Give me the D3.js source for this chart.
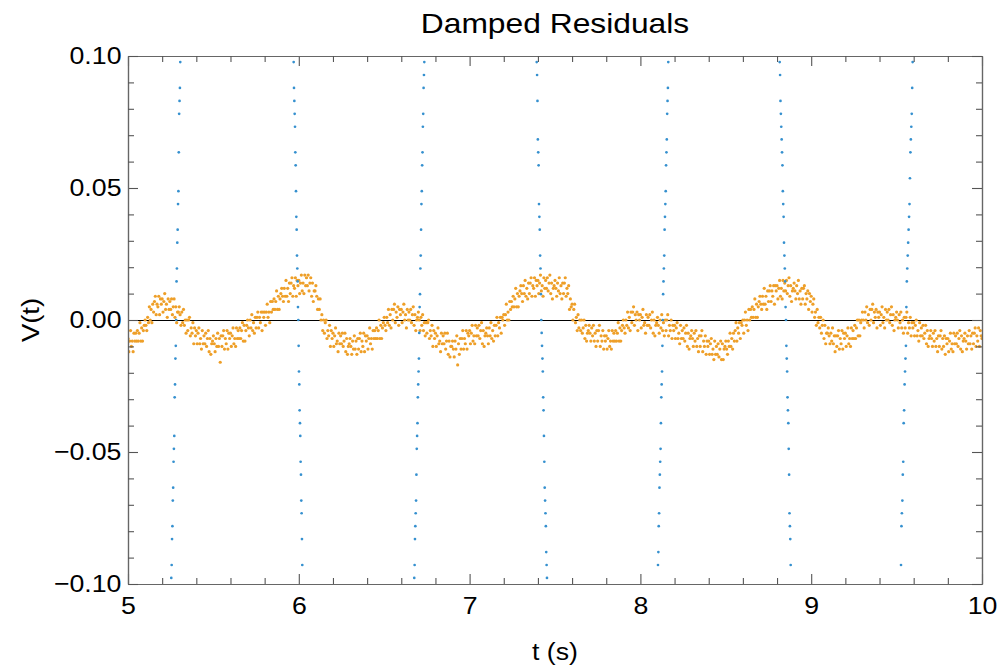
<!DOCTYPE html>
<html lang="en">
<head>
<meta charset="UTF-8">
<title>Damped Residuals</title>
<style>
  body { margin: 0; background: #fff; }
  text { font-family: "Liberation Sans", Arial, sans-serif; fill: #000; }
</style>
</head>
<body>
<script src="https://d3js.org/d3.v7.min.js"></script>
<script>
// tick values / labels
var xTicks = [5, 6, 7, 8, 9, 10];
var yTicks = [-0.1, -0.05, 0, 0.05, 0.1];
var yTickLabels = ["\u22120.10", "\u22120.05", "0.00", "0.05", "0.10"];

// residuals (orange), mV, sampled every 5 ms from t = 5 s
var orangeStart = 5, orangeStep = 0.005;
var orangeMV = [
  -7,-12,-8,-4,-10,-8,-12,-5,-8,-5, -8,-4,-8,-5,-1,-8,-3,-8,-4,-2, 0,-2,-4,1,-1,5,0,4,-1,6, 3,7,9,2,6,5,9,2,8,6,
  8,3,7,10,4,6,1,8,4,7, 4,8,2,5,8,1,5,-1,3,3, 5,2,-2,3,-1,4,-2,0,-5,0, -4,0,1,-6,-3,-5,-1,-9,-3,-6,
  -4,-9,-5,-3,-9,-7,-11,-4,-9,-6, -9,-5,-10,-7,-4,-12,-7,-13,-9,-8, -6,-9,-12,-7,-10,-5,-10,-7,-16,-6, -10,-6,-4,-11,-7,-9,-4,-11,-5,-7,
  -5,-10,-6,-3,-9,-7,-10,-3,-7,-4, -7,-3,-7,-4,-1,-8,-2,-8,-4,-2, 0,-3,-6,0,-3,2,-4,-1,-5,1, -3,1,3,-3,1,-1,3,-4,3,1,
  3,-2,3,6,1,3,-1,7,3,7, 4,8,4,7,11,4,9,4,8,10, 12,9,7,12,9,15,9,12,7,14, 10,14,16,9,13,12,16,9,15,13,
  15,10,14,17,11,14,10,17,13,16, 13,17,11,14,16,9,14,7,11,11, 13,9,4,8,4,8,0,2,-4,0, -5,-1,0,-7,-4,-6,-2,-10,-4,-7,
  -5,-10,-6,-3,-9,-8,-12,-5,-9,-6, -9,-5,-10,-8,-5,-12,-7,-13,-10,-9, -7,-10,-13,-8,-11,-6,-11,-8,-13,-7, -11,-7,-5,-12,-8,-10,-5,-12,-6,-8,
  -6,-11,-7,-3,-9,-7,-11,-4,-7,-4, -7,-3,-7,-4,0,-7,-2,-7,-3,-1, 1,-2,-4,1,-1,4,-2,2,-3,4, 0,4,6,-1,3,1,5,-2,4,2,
  4,-1,3,6,0,2,-3,4,0,3, 0,4,-1,2,5,-2,2,-4,0,1, 3,0,-4,1,-2,2,-4,-1,-6,-1, -5,-1,0,-7,-4,-6,-2,-10,-4,-7,
  -5,-10,-6,-3,-9,-8,-12,-5,-9,-6, -9,-5,-11,-8,-5,-13,-8,-14,-10,-10, -8,-11,-14,-8,-11,-6,-17,-9,-13,-7, -11,-7,-4,-11,-7,-9,-4,-11,-5,-6,
  -4,-9,-5,-2,-8,-6,-9,-2,-6,-3, -6,-2,-7,-4,-1,-9,-4,-10,-6,-5, -3,-6,-9,-3,-6,-1,-7,-4,-8,-2, -6,-2,1,-6,-1,-3,1,-5,1,0,
  2,-2,2,6,0,3,0,7,4,7, 5,9,5,8,12,5,10,5,9,11, 13,10,7,13,10,15,9,12,8,14, 10,14,16,9,13,12,16,9,15,13,
  15,10,14,17,11,13,9,16,12,15, 12,16,11,14,17,10,14,8,12,13, 15,12,9,14,11,16,10,13,8,14, 10,14,16,9,12,10,13,4,8,5,
  6,0,4,6,-1,1,-4,2,-3,0, -4,0,-5,-3,0,-7,-2,-8,-5,-4, -2,-5,-8,-3,-6,-2,-8,-5,-10,-4, -8,-4,-2,-10,-6,-8,-4,-11,-6,-8,
  -6,-11,-7,-4,-10,-8,-11,-4,-8,-5, -8,-4,-8,-5,-1,-8,-3,-8,-4,-2, 0,-3,-5,0,-2,3,-3,1,-4,3, -1,3,5,-2,2,0,3,-4,2,0,
  2,-3,1,4,-2,-1,-5,2,-2,1, -2,2,-3,0,3,-5,0,-6,-2,-1, 1,-2,-5,0,-3,2,-4,-1,-6,0, -4,0,2,-6,-2,-4,0,-7,-2,-4,
  -2,-7,-3,-1,-7,-5,-9,-2,-7,-4, -7,-3,-8,-5,-2,-10,-5,-11,-7,-6, -4,-7,-10,-5,-8,-4,-10,-7,-12,-6, -10,-6,-4,-12,-8,-10,-6,-13,-8,-10,
  -8,-13,-9,-7,-13,-11,-15,-8,-13,-10, -13,-9,-14,-11,-8,-15,-9,-15,-11,-10, -8,-11,-13,-8,-10,-5,-10,-7,-11,-5, -8,-4,-1,-8,-3,-5,-1,-7,-1,-2,
  0,-5,0,3,-2,0,-4,4,0,4, 1,5,1,4,8,1,6,1,5,7, 9,6,4,9,6,12,6,9,4,11, 7,11,13,7,11,9,13,6,13,11,
  13,8,12,15,9,12,8,15,11,14, 11,15,10,13,16,9,13,7,11,12, 14,11,8,13,10,15,8,11,6,12, 8,12,13,6,10,8,11,4,10,7,
  9,3,6,8,1,3,-2,4,-1,1, -3,1,-5,-2,0,-7,-2,-9,-5,-5, -3,-6,-9,-5,-8,-3,-9,-6,-12,-6, -10,-6,-4,-11,-7,-9,-4,-11,-5,-7,
  -5,-10,-6,-3,-9,-7,-10,-3,-7,-4, -7,-2,-7,-3,0,-6,0,-6,-1,0, 3,0,-3,3,0,5,-1,2,-2,4, 0,4,6,-1,3,1,4,-3,3,1,
  3,-2,2,5,-1,1,-3,4,0,3, 0,4,-1,2,5,-2,2,-4,0,1, 3,0,-3,2,-1,3,-3,0,-5,1, -3,1,3,-5,-1,-3,1,-6,-1,-3,
  -1,-6,-2,0,-6,-4,-8,-1,-6,-3, -6,-2,-7,-5,-2,-9,-4,-10,-7,-6, -4,-7,-10,-5,-8,-4,-10,-7,-12,-6, -10,-6,-4,-11,-7,-10,-6,-13,-7,-9,
  -7,-12,-8,-5,-11,-9,-12,-5,-9,-6, -9,-5,-10,-7,-4,-11,-6,-12,-8,-7, -5,-8,-11,-6,-9,-4,-9,-6,-11,-5, -9,-5,-3,-10,-6,-8,-3,-10,-4,-6,
  -7
];

// raw signal (blue), only the samples that fall inside the window; mV
var blueT = [
  [5.2535,5.2557,5.2579,5.2601,5.2623,5.2645,5.2667,5.2688,5.2710,5.2732,5.2754,5.2776,5.2798,5.2820,5.2842,5.2864,5.2886,5.2907,5.2929,5.2951,5.2973,5.2995,5.3017,5.3039,5.3060],
  [5.9700,5.9719,5.9739,5.9758,5.9778,5.9797,5.9816,5.9836,5.9855,5.9875,5.9894,5.9913,5.9933,5.9952,5.9972,5.9991,6.0010,6.0030,6.0049,6.0069,6.0088,6.0107,6.0127,6.0146,6.0166,6.0185,6.0204],
  [6.6760,6.6781,6.6802,6.6823,6.6844,6.6865,6.6886,6.6907,6.6928,6.6949,6.6970,6.6991,6.7012,6.7033,6.7054,6.7075,6.7096,6.7117,6.7138,6.7159,6.7180,6.7201,6.7222,6.7243,6.7264,6.7285,6.7306,6.7327,6.7348],
  [7.3929,7.3951,7.3974,7.3996,7.4018,7.4041,7.4063,7.4085,7.4107,7.4130,7.4152,7.4174,7.4197,7.4219,7.4241,7.4264,7.4286,7.4308,7.4330,7.4353,7.4375,7.4397,7.4420,7.4442,7.4464,7.4487,7.4509,7.4531],
  [8.1030,8.1052,8.1073,8.1095,8.1116,8.1138,8.1159,8.1181,8.1202,8.1224,8.1245,8.1267,8.1288,8.1310,8.1331,8.1353,8.1374,8.1396,8.1417,8.1439,8.1460,8.1482,8.1503,8.1525,8.1546,8.1568,8.1589,8.1611,8.1632],
  [8.8155,8.8178,8.8201,8.8224,8.8247,8.8270,8.8293,8.8316,8.8339,8.8362,8.8385,8.8408,8.8431,8.8454,8.8477,8.8500,8.8523,8.8546,8.8569,8.8592,8.8615,8.8638,8.8661,8.8684,8.8707,8.8730,8.8753,8.8776,8.8799],
  [9.5258,9.5284,9.5310,9.5337,9.5363,9.5389,9.5415,9.5441,9.5468,9.5494,9.5520,9.5546,9.5572,9.5599,9.5625,9.5651,9.5677,9.5703,9.5730,9.5756,9.5782,9.5808,9.5834,9.5861,9.5887,9.5913,9.5939]
];
var blueMV = [
  [-97.7,-92.8,-83.0,-78.1,-68.4,-63.5,-53.7,-48.8,-43.9,-29.3,-24.4,-14.6,-9.8,0,14.6,19.5,29.3,34.2,43.9,48.8,63.5,78.1,83.0,87.9,97.7],
  [97.7,87.9,83.0,78.1,73.2,63.5,58.6,48.8,39.1,34.2,24.4,19.5,14.6,4.9,0,-9.8,-19.5,-24.4,-34.2,-39.1,-43.9,-53.7,-58.6,-68.4,-73.2,-83.0,-92.8],
  [-97.7,-92.8,-83.0,-78.1,-73.2,-68.4,-58.6,-48.8,-43.9,-39.1,-29.3,-24.4,-19.5,-14.6,-4.9,4.9,9.8,19.5,24.4,34.2,43.9,48.8,58.6,63.5,73.2,78.1,87.9,92.8,97.7],
  [97.7,92.8,83.0,68.4,63.5,58.6,43.9,39.1,34.2,24.4,19.5,9.8,0,-4.9,-9.8,-14.6,-19.5,-29.3,-34.2,-43.9,-53.7,-63.5,-68.4,-73.2,-78.1,-87.9,-92.8,-97.7],
  [-92.8,-87.9,-78.1,-73.2,-63.5,-58.6,-53.7,-48.8,-39.1,-29.3,-24.4,-19.5,-9.8,0,9.8,14.6,19.5,24.4,34.2,39.1,43.9,48.8,58.6,63.5,68.4,78.1,83.0,87.9,97.7],
  [97.7,92.8,83.0,78.1,73.2,68.4,63.5,58.6,48.8,43.9,39.1,29.3,24.4,19.5,14.6,4.9,0,-9.8,-14.6,-19.5,-29.3,-34.2,-39.1,-48.8,-58.6,-73.2,-78.1,-83.0,-92.8],
  [-92.8,-78.1,-73.2,-68.4,-58.6,-53.7,-39.1,-34.2,-24.4,-19.5,-14.6,-9.8,4.9,14.6,19.5,24.4,29.3,34.2,39.1,43.9,53.7,63.5,68.4,73.2,78.1,87.9,97.7]
];

var width = 1002, height = 668;
var margin = { left: 128, right: 20, top: 56, bottom: 84 };

var svg = d3.select('body').append('svg').attr('width', width).attr('height', height);

var x = d3.scaleLinear().domain([5, 10]).range([margin.left, width - margin.right]);
var y = d3.scaleLinear().domain([-0.1, 0.1]).range([height - margin.bottom, margin.top]);

var orange = orangeMV.map(function (v, i) { return { t: orangeStart + i * orangeStep, v: v / 1000 }; });
var blue = [];
blueT.forEach(function (ts, j) {
  ts.forEach(function (t, i) { blue.push({ t: t, v: blueMV[j][i] / 1000 }); });
});

svg.append('clipPath').attr('id', 'plot').append('rect')
  .attr('x', x(5)).attr('y', y(0.1)).attr('width', x(10) - x(5)).attr('height', y(-0.1) - y(0.1));

var plot = svg.append('g').attr('clip-path', 'url(#plot)');

// zero line
plot.append('line')
  .attr('x1', x(5)).attr('x2', x(10)).attr('y1', y(0) + 0.5).attr('y2', y(0) + 0.5)
  .attr('stroke', '#000').attr('stroke-width', 1).attr('shape-rendering', 'crispEdges');

plot.append('g').selectAll('circle').data(orange).enter().append('circle')
  .attr('cx', function (d) { return x(d.t); })
  .attr('cy', function (d) { return y(d.v); })
  .attr('r', 1.6)
  .attr('fill', '#ee9f28');

plot.append('g').selectAll('circle').data(blue).enter().append('circle')
  .attr('cx', function (d) { return x(d.t); })
  .attr('cy', function (d) { return y(d.v); })
  .attr('r', 1.35)
  .attr('fill', '#3590cf');

// frame with ticks on all four sides
var xMinor = d3.range(50, 101, 2).map(function (d) { return d / 10; }).filter(function (d) { return xTicks.indexOf(d) < 0; });
var yMinor = d3.range(-10, 11, 1).map(function (d) { return d / 100; }).filter(function (d) { return Math.round(d * 100) % 5 !== 0; });

// the reference glyphs are a little wider than Liberation Sans
function styleAxis(g) {
  g.selectAll('path.domain').attr('stroke', '#666').attr('stroke-width', 1.2);
  g.selectAll('.tick line').attr('stroke', '#555').attr('stroke-width', 1.1);
  g.selectAll('.tick text').attr('font-size', 24.5).attr('font-family', '"Liberation Sans", Arial, sans-serif')
    .attr('fill', '#000').attr('transform', 'scale(1.09,1)');
}

var fmtY = function (d) { return yTickLabels[yTicks.indexOf(d)]; };

svg.append('g').attr('transform', 'translate(0,' + y(-0.1) + ')')
  .call(d3.axisBottom(x).tickValues(xTicks).tickSizeInner(-10).tickSizeOuter(0).tickPadding(13).tickFormat(d3.format('d')))
  .call(styleAxis);
svg.append('g').attr('transform', 'translate(0,' + y(-0.1) + ')')
  .call(d3.axisBottom(x).tickValues(xMinor).tickSizeInner(-6).tickSizeOuter(0).tickFormat(''))
  .call(styleAxis);
svg.append('g').attr('transform', 'translate(0,' + y(0.1) + ')')
  .call(d3.axisTop(x).tickValues(xTicks).tickSizeInner(-10).tickSizeOuter(0).tickFormat(''))
  .call(styleAxis);
svg.append('g').attr('transform', 'translate(0,' + y(0.1) + ')')
  .call(d3.axisTop(x).tickValues(xMinor).tickSizeInner(-6).tickSizeOuter(0).tickFormat(''))
  .call(styleAxis);
svg.append('g').attr('transform', 'translate(' + x(5) + ',0)')
  .call(d3.axisLeft(y).tickValues(yTicks).tickSizeInner(-10).tickSizeOuter(0).tickPadding(6).tickFormat(fmtY))
  .call(styleAxis);
svg.append('g').attr('transform', 'translate(' + x(5) + ',0)')
  .call(d3.axisLeft(y).tickValues(yMinor).tickSizeInner(-6).tickSizeOuter(0).tickFormat(''))
  .call(styleAxis);
svg.append('g').attr('transform', 'translate(' + x(10) + ',0)')
  .call(d3.axisRight(y).tickValues(yTicks).tickSizeInner(-10).tickSizeOuter(0).tickFormat(''))
  .call(styleAxis);
svg.append('g').attr('transform', 'translate(' + x(10) + ',0)')
  .call(d3.axisRight(y).tickValues(yMinor).tickSizeInner(-6).tickSizeOuter(0).tickFormat(''))
  .call(styleAxis);

// titles
var cx = (x(5) + x(10)) / 2;
svg.append('text').attr('transform', 'translate(' + cx + ',33) scale(1.135,1)')
  .attr('text-anchor', 'middle').attr('font-size', 28).text('Damped Residuals');
svg.append('text').attr('transform', 'translate(' + cx + ',660) scale(1.09,1)')
  .attr('text-anchor', 'middle').attr('font-size', 24.5).text('t (s)');
svg.append('text').attr('transform', 'translate(39,' + y(0) + ') rotate(-90) scale(1.12,1)')
  .attr('text-anchor', 'middle').attr('font-size', 24.5).text('V(t)');
</script>
</body>
</html>
